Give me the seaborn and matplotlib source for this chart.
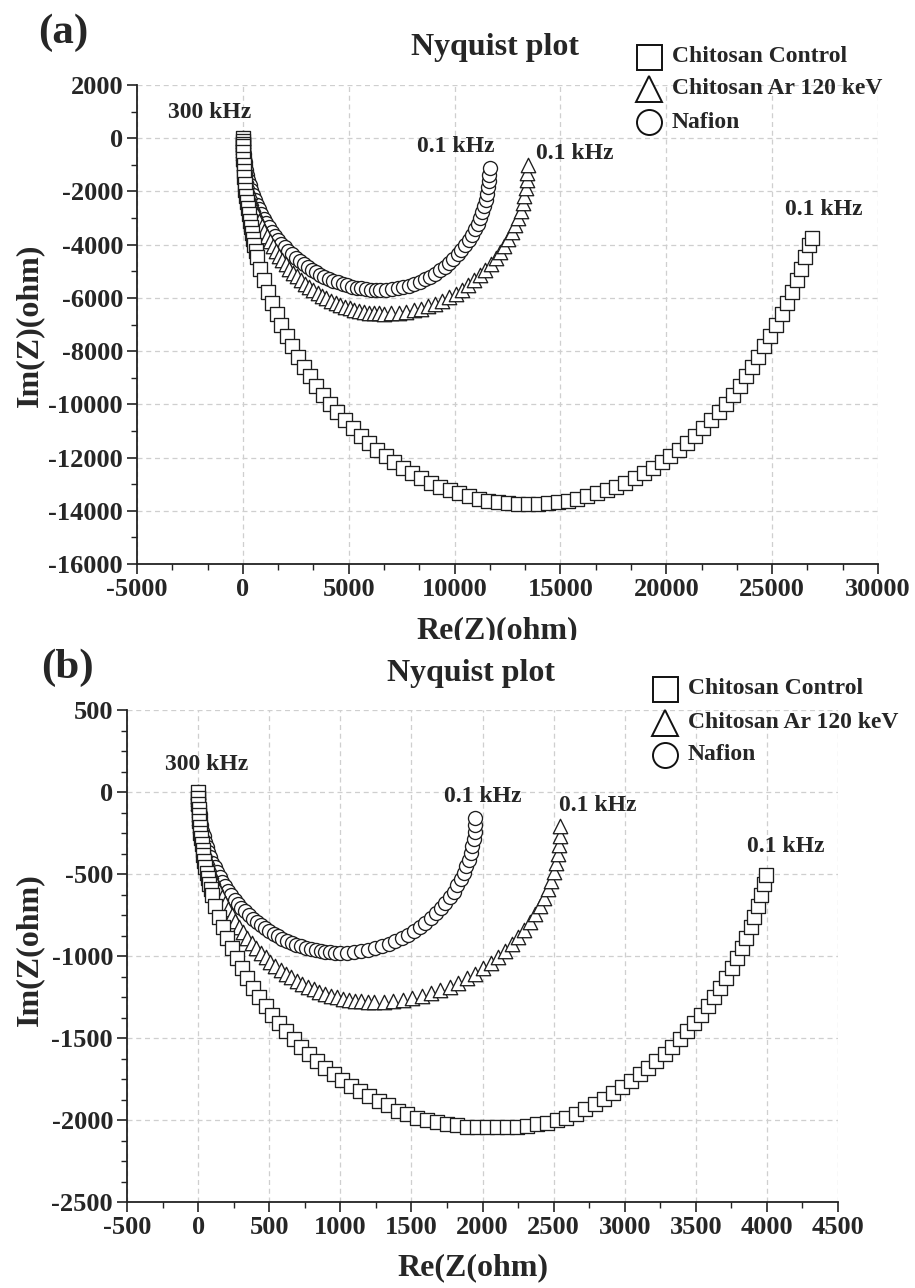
import matplotlib
matplotlib.use("Agg")
import matplotlib.pyplot as plt
import seaborn as sns
from matplotlib.ticker import MultipleLocator, AutoMinorLocator
from matplotlib.lines import Line2D
from matplotlib.patches import Rectangle

sns.set_style("white")
plt.rcParams['font.family'] = ['Liberation Serif', 'DejaVu Serif']
plt.rcParams['font.weight'] = 'bold'
plt.rcParams['axes.unicode_minus'] = False

# ---------------- labels ----------------
series_labels = ["Chitosan Control", "Chitosan Ar 120 keV", "Nafion"]
series_markers = ["s", "^", "o"]
freq_high = "300 kHz"
freq_low = "0.1 kHz"
panel_labels = ["(a)", "(b)"]
panel_titles = ["Nyquist plot", "Nyquist plot"]
x_labels = ["Re(Z)(ohm)", "Re(Z(ohm)"]
y_labels = ["Im(Z)(ohm)", "Im(Z(ohm)"]

# ---------------- panel (a) data ----------------
a_ctrl_x = [0, 5, 10, 15, 22, 28, 38, 52, 71, 94, 120, 150, 186, 224, 267, 314, 365, 419, 478, 540, 608, 678,
            831, 999, 1183, 1381, 1594, 1822, 2064, 2319, 2589, 2871, 3167, 3475, 3795, 4127, 4470, 4825, 5189,
            5564, 5949, 6343, 6745, 7156, 7574, 7999, 8431, 8870, 9314, 9763, 10216, 10674, 11134, 11598, 12064,
            12532, 13001, 13470, 13939, 14408, 14876, 15342, 15806, 16266, 16724, 17177, 17626, 18070, 18509,
            18941, 19366, 19784, 20195, 20597, 20991, 21376, 21751, 22115, 22470, 22813, 23145, 23465, 23773,
            24069, 24351, 24621, 24876, 25198, 25456, 25699, 25937, 26161, 26369, 26562, 26740, 26870]
a_ctrl_y = [0, -100, -200, -300, -535, -769, -1004, -1239, -1472, -1706, -1939, -2172, -2404, -2635, -2866,
            -3096, -3326, -3554, -3781, -4007, -4232, -4456, -4900, -5338, -5770, -6196, -6615, -7025, -7427,
            -7821, -8206, -8581, -8946, -9300, -9643, -9975, -10295, -10603, -10899, -11181, -11450, -11706,
            -11948, -12175, -12389, -12587, -12771, -12939, -13092, -13229, -13350, -13456, -13546, -13619,
            -13676, -13717, -13742, -13750, -13742, -13717, -13676, -13619, -13546, -13456, -13350, -13229,
            -13092, -12939, -12771, -12587, -12389, -12175, -11948, -11706, -11450, -11181, -10899, -10603,
            -10295, -9975, -9643, -9300, -8946, -8581, -8206, -7821, -7427, -7025, -6615, -6196, -5770, -5338,
            -4900, -4456, -4007, -3760]

a_ar_x = [0, 1, 4, 9, 16, 25, 36, 50, 65, 82, 101, 145, 198, 258, 325, 401, 484, 575, 673, 778, 891, 1010, 1137,
          1270, 1410, 1556, 1708, 1866, 2030, 2200, 2375, 2556, 2741, 2931, 3126, 3325, 3528, 3735, 3945, 4159,
          4376, 4595, 4817, 5041, 5267, 5495, 5725, 5955, 6186, 6418,
          6650, 7006, 7361, 7714, 8064, 8410, 8751, 9087, 9416, 9737, 10050, 10353, 10647, 10929, 11200, 11458,
          11703, 11934, 12151, 12353, 12539, 12709, 12862, 12998, 13117, 13218, 13301, 13366, 13413, 13440, 13450]
a_ar_y = [0, -115, -230, -345, -460, -574, -689, -803, -917, -1031, -1144, -1370, -1594, -1816, -2036, -2254,
          -2469, -2680, -2889, -3094, -3295, -3492, -3685, -3874, -4057, -4236, -4409, -4578, -4740, -4897, -5048,
          -5193, -5331, -5463, -5588, -5707, -5818, -5923, -6020, -6110, -6193, -6268, -6335, -6394, -6446, -6490,
          -6526, -6554, -6574, -6586,
          -6590, -6582, -6559, -6521, -6468, -6399, -6317, -6219, -6106, -5981, -5841, -5688, -5522, -5344, -5154,
          -4953, -4740, -4518, -4286, -4044, -3795, -3538, -3273, -3003, -2727, -2447, -2162, -1874, -1584, -1292,
          -1000]

a_naf_x = [0, 1, 4, 9, 16, 25, 36, 48, 63, 80, 99, 142, 193, 252, 318, 392, 473, 562, 658, 761, 871, 988, 1111,
           1241, 1378, 1521, 1670, 1824, 1985, 2151, 2322, 2498, 2679, 2865, 3056, 3250, 3448, 3651, 3856, 4065,
           4277, 4491, 4708, 4928, 5149, 5371, 5595, 5821, 6047, 6273,
           6500, 6769, 7038, 7306, 7571, 7833, 8091, 8346, 8595, 8838, 9075, 9305, 9527, 9741, 9946, 10142, 10327,
           10502, 10666, 10819, 10960, 11089, 11205, 11308, 11398, 11474, 11537, 11587, 11622, 11643, 11650]
a_naf_y = [0, -99, -199, -298, -398, -497, -596, -695, -793, -891, -990, -1185, -1379, -1571, -1761, -1949, -2135,
           -2318, -2499, -2676, -2850, -3020, -3187, -3350, -3509, -3664, -3814, -3960, -4100, -4236, -4366, -4492,
           -4611, -4725, -4834, -4936, -5033, -5123, -5207, -5285, -5356, -5421, -5479, -5531, -5575, -5613, -5644,
           -5669, -5686, -5697,
           -5700, -5694, -5675, -5644, -5600, -5544, -5476, -5396, -5305, -5202, -5088, -4963, -4827, -4681, -4526,
           -4361, -4188, -4006, -3816, -3619, -3415, -3205, -2989, -2768, -2542, -2313, -2080, -1845, -1608, -1369,
           -1130]

# ---------------- panel (b) data ----------------
b_ctrl_x = [0, 0, 1, 3, 5, 8, 11, 15, 20, 25, 31, 37, 44, 52, 60, 69, 79, 89, 99, 122, 148, 175, 205, 238, 272,
            308, 347, 388, 430, 475, 521, 570, 620, 672, 725, 780, 837, 895, 954, 1015, 1077, 1140, 1204, 1270,
            1336, 1403, 1470, 1539, 1608, 1677, 1747, 1818, 1888, 1959, 2030, 2101, 2172, 2242, 2313, 2383, 2452,
            2521, 2590, 2657, 2724, 2790, 2856, 2920, 2983, 3045, 3106, 3165, 3223, 3280, 3335, 3388, 3440, 3490,
            3539, 3585, 3630, 3672, 3713, 3752, 3788, 3822, 3855, 3885, 3912, 3938, 3961, 3981, 3996]
b_ctrl_y = [0, -35, -71, -106, -142, -177, -212, -247, -283, -318, -353, -387, -422, -457, -491, -525, -560, -594,
            -627, -694, -760, -826, -890, -953, -1015, -1076, -1135, -1193, -1250, -1305, -1358, -1410, -1460,
            -1509, -1555, -1600, -1642, -1683, -1722, -1758, -1792, -1825, -1854, -1882, -1908, -1945, -1965,
            -1985, -2000, -2015, -2025, -2033, -2040, -2043, -2045, -2045, -2043, -2040, -2035, -2027, -2017,
            -2003, -1985, -1965, -1935, -1905, -1870, -1835, -1798, -1760, -1722, -1683, -1642, -1600, -1555,
            -1509, -1460, -1410, -1358, -1305, -1250, -1193, -1135, -1076, -1015, -953, -890, -826, -760, -694,
            -627, -560, -507]

b_ar_x = [0, 0, 1, 2, 3, 5, 7, 9, 12, 15, 19, 27, 37, 48, 60, 74, 90, 107, 125, 145, 165, 188, 211, 236, 262, 289,
          317, 347, 377, 409, 441, 475, 509, 544, 581, 618, 655, 694, 733, 772, 813, 853, 895, 936, 978, 1021, 1063,
          1106, 1149, 1192,
          1235, 1304, 1372, 1440, 1507, 1574, 1640, 1704, 1768, 1830, 1890, 1948, 2005, 2059, 2112, 2161, 2208,
          2253, 2295, 2334, 2369, 2402, 2432, 2458, 2481, 2500, 2516, 2529, 2538, 2543, 2545]
b_ar_y = [0, -22, -45, -67, -89, -112, -134, -156, -178, -200, -222, -266, -310, -353, -396, -438, -479, -521, -561,
          -601, -640, -678, -716, -752, -788, -823, -856, -889, -921, -951, -981, -1009, -1036, -1061, -1085, -1109,
          -1130, -1150, -1169, -1187, -1203, -1217, -1230, -1242, -1252, -1261, -1268, -1273, -1277, -1279,
          -1280, -1279, -1274, -1267, -1257, -1244, -1228, -1209, -1187, -1163, -1137, -1107, -1076, -1042, -1005,
          -967, -926, -883, -839, -793, -745, -696, -645, -593, -541, -487, -432, -377, -322, -266, -210]

b_naf_x = [0, 0, 1, 1, 2, 4, 5, 7, 10, 12, 15, 22, 30, 39, 49, 60, 73, 86, 101, 117, 134, 152, 171, 191, 212, 234,
           257, 281, 305, 331, 357, 384, 412, 441, 470, 500, 531, 562, 593, 625, 658, 691, 724, 758, 792, 826, 861,
           895, 930, 965,
           1000, 1050, 1099, 1149, 1198, 1246, 1294, 1340, 1386, 1431, 1475, 1517, 1558, 1598, 1636, 1672, 1706,
           1738, 1769, 1797, 1823, 1846, 1868, 1887, 1904, 1918, 1929, 1938, 1945, 1949, 1950]
b_naf_y = [0, -17, -34, -51, -68, -85, -102, -119, -136, -153, -170, -204, -237, -270, -303, -335, -367, -399, -430,
           -460, -490, -519, -548, -576, -603, -630, -656, -681, -705, -728, -751, -772, -793, -812, -831, -849,
           -865, -881, -895, -909, -921, -932, -942, -951, -959, -965, -970, -975, -978, -979,
           -980, -979, -976, -970, -962, -952, -940, -926, -909, -891, -870, -848, -823, -797, -769, -740, -709,
           -676, -642, -607, -570, -532, -494, -454, -413, -372, -330, -288, -246, -203, -160]

# frequency annotation anchors (data units): high-freq label, then low-freq labels per series order ctrl, ar, naf
a_hf_pos = (-1550, 950)
a_lf_pos = [(27450, -2680), (15700, -570), (10050, -300)]
b_hf_pos = (63, 165)
b_lf_pos = [(4130, -335), (2810, -80), (2005, -30)]

W, H = 915, 1288
fig = plt.figure(figsize=(W / 100, H / 100), dpi=100)


def fx(px):
    return px / W


def fy(py):
    return 1 - py / H


EDGE = '#1e1e1e'
sizes = {"s": 98, "^": 108, "o": 102}


def draw_panel(ax, data, xlim, ylim, xmaj, ymaj, xminor, yminor, hf_pos, lf_pos):
    # draw order: Nafion, Ar, Control on top
    for (xs, ys, mk, z) in reversed(data):
        sns.scatterplot(x=xs, y=ys, marker=mk, s=sizes[mk], color='white', edgecolor=EDGE,
                        linewidth=0.95, ax=ax, legend=False, zorder=z)
    ax.set_xlim(*xlim)
    ax.set_ylim(*ylim)
    ax.xaxis.set_major_locator(MultipleLocator(xmaj))
    ax.yaxis.set_major_locator(MultipleLocator(ymaj))
    ax.xaxis.set_minor_locator(AutoMinorLocator(xminor))
    ax.yaxis.set_minor_locator(AutoMinorLocator(yminor))
    ax.grid(True, which='major', color='#cfcfcf', linestyle=(0, (4, 3)), linewidth=0.9)
    ax.set_axisbelow(True)
    for s in ['top', 'right']:
        ax.spines[s].set_visible(False)
    for s in ['left', 'bottom']:
        ax.spines[s].set_color('#222222')
        ax.spines[s].set_linewidth(1.3)
    ax.tick_params(which='major', direction='out', length=7, width=1.2, color='#222222',
                   labelsize=19, pad=3, left=True, bottom=True)
    ax.tick_params(which='minor', direction='out', length=4, width=1.0, color='#222222',
                   left=True, bottom=True)
    for lab in ax.get_xticklabels() + ax.get_yticklabels():
        lab.set_fontweight('bold')
    ax.set_xlabel("")
    ax.set_ylabel("")
    ax.text(hf_pos[0], hf_pos[1], freq_high, ha='center', va='center', fontsize=17, fontweight='bold')
    for p in lf_pos:
        ax.text(p[0], p[1], freq_low, ha='center', va='center', fontsize=17, fontweight='bold')


# panel (a): axes from x 137..878 px, y 85..564 px
ax1 = fig.add_axes([fx(137), fy(564), (878 - 137) / W, (564 - 85) / H])
draw_panel(ax1,
           [(a_ctrl_x, a_ctrl_y, "s", 5), (a_ar_x, a_ar_y, "^", 4), (a_naf_x, a_naf_y, "o", 3)],
           (-5000, 30000), (-16000, 2000), 5000, 2000, 3, 2, a_hf_pos, a_lf_pos)

# panel (b): axes from x 127..838 px, y 710..1202 px
ax2 = fig.add_axes([fx(127), fy(1202), (838 - 127) / W, (1202 - 710) / H])
draw_panel(ax2,
           [(b_ctrl_x, b_ctrl_y, "s", 5), (b_ar_x, b_ar_y, "^", 4), (b_naf_x, b_naf_y, "o", 3)],
           (-500, 4500), (-2500, 500), 500, 500, 2, 4, b_hf_pos, b_lf_pos)

# panel letters, titles, axis labels
fig.text(fx(63), fy(33), panel_labels[0], ha='center', va='center', fontsize=31, fontweight='bold')
fig.text(fx(67), fy(668), panel_labels[1], ha='center', va='center', fontsize=31, fontweight='bold')
fig.text(fx(495), fy(48), panel_titles[0], ha='center', va='center', fontsize=23, fontweight='bold')
fig.text(fx(471), fy(673), panel_titles[1], ha='center', va='center', fontsize=23, fontweight='bold')
fig.text(fx(30), fy(325), y_labels[0], ha='center', va='center', rotation=90, fontsize=23, fontweight='bold')
fig.text(fx(30), fy(950), y_labels[1], ha='center', va='center', rotation=90, fontsize=23, fontweight='bold')
fig.text(fx(497), fy(631), x_labels[0], ha='center', va='center', fontsize=23, fontweight='bold')
fig.text(fx(473), fy(1268), x_labels[1], ha='center', va='center', fontsize=23, fontweight='bold')
# panel (b) overlaps the lower part of panel (a)'s x label
fig.add_artist(Rectangle((fx(380), fy(652)), 240 / W, 12 / H, transform=fig.transFigure,
                         facecolor='white', edgecolor='none', zorder=20))


# legends
def draw_legend(mx, tx, ys):
    for lab, mk, yy in zip(series_labels, series_markers, ys):
        fig.add_artist(Line2D([fx(mx)], [fy(yy)], marker=mk, markersize=18 if mk != '^' else 19,
                              markerfacecolor='white', markeredgecolor='#111111', markeredgewidth=1.4,
                              linestyle='none', transform=fig.transFigure))
        fig.text(fx(tx), fy(yy), lab, ha='left', va='center', fontsize=17, fontweight='bold')


draw_legend(649, 672, [57, 89, 122])
draw_legend(665, 688, [689, 723, 755])

fig.savefig("out.png", dpi=100)
